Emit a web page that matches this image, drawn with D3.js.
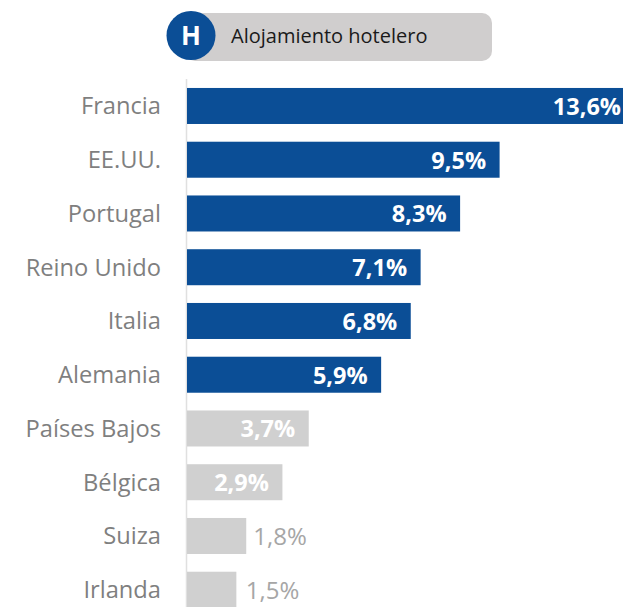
<!DOCTYPE html>
<html>
<head>
<meta charset="utf-8">
<script src="https://cdn.jsdelivr.net/npm/d3@7"></script>
<style>
html, body { margin: 0; padding: 0; background: #fff; overflow: hidden; }
svg { display: block; }
text { font-family: "Open Sans", sans-serif; }
</style>
</head>
<body>
<div id="chart"></div>
<script>
var w = 623, h = 607;

var countries = ["Francia", "EE.UU.", "Portugal", "Reino Unido", "Italia", "Alemania", "Países Bajos", "Bélgica", "Suiza", "Irlanda"];
var shares = [13.6, 9.5, 8.3, 7.1, 6.8, 5.9, 3.7, 2.9, 1.8, 1.5];
var labels = ["13,6%", "9,5%", "8,3%", "7,1%", "6,8%", "5,9%", "3,7%", "2,9%", "1,8%", "1,5%"];

var svg = d3.select("#chart").append("svg")
	.attr("width", w)
	.attr("height", h);

// header pill
svg.append("rect")
	.attr("x", 185).attr("y", 13)
	.attr("width", 307).attr("height", 48)
	.attr("rx", 10)
	.style("fill", "#d0cece");
svg.append("circle")
	.attr("cx", 191).attr("cy", 35.5).attr("r", 24.5)
	.style("fill", "#0b4e96");
svg.append("text")
	.attr("x", 191).attr("y", 45)
	.attr("text-anchor", "middle")
	.style("font-size", "26px").style("font-weight", 700)
	.style("fill", "#fff")
	.text("H");
svg.append("text")
	.attr("x", 231).attr("y", 43)
	.style("font-size", "20px")
	.style("fill", "#1a1a1a")
	.text("Alojamiento hotelero");

// the first bar runs past the right edge of the picture
var x = d3.scaleLinear().domain([0, 13.6]).range([187, 634.5]);
var y = d3.scaleBand().domain(countries).range([79.1, 616.6]).paddingInner(0.33).paddingOuter(0.165);

// axis line
svg.append("line")
	.attr("x1", 186.5).attr("x2", 186.5)
	.attr("y1", 79).attr("y2", 607)
	.style("stroke", "#e0e0e0")
	.style("stroke-width", 1.5);

var bars = svg.selectAll("rect.bar")
	.data(countries)
	.enter()
	.append("rect")
	.classed("bar", true)
	.attr("x", x(0))
	.attr("y", function(d){ return y(d); })
	.attr("width", function(d, i){ return x(shares[i]) - x(0); })
	.attr("height", y.bandwidth())
	.style("fill", function(d, i){ return i < 6 ? "#0b4e96" : "#d0d0d0"; });

svg.selectAll("text.cat")
	.data(countries)
	.enter()
	.append("text")
	.classed("cat", true)
	.attr("x", 161)
	.attr("y", function(d){ return y(d) + y.bandwidth() / 2 + 8.5; })
	.attr("text-anchor", "end")
	.style("font-size", "23.7px")
	.style("fill", "#7f7f7f")
	.text(function(d){ return d; });

svg.selectAll("text.val")
	.data(labels)
	.enter()
	.append("text")
	.classed("val", true)
	.attr("x", function(d, i){
		if (i < 8) return x(shares[i]) - 13.5;
		return x(shares[i]) + (i == 9 ? 9.5 : 7);
	})
	.attr("y", function(d, i){ return y(countries[i]) + y.bandwidth() / 2 + 9; })
	.attr("text-anchor", function(d, i){ return i < 8 ? "end" : "start"; })
	.style("font-size", function(d, i){ return i < 8 ? "23.5px" : "24px"; })
	.style("font-weight", function(d, i){ return i < 8 ? 700 : 400; })
	.style("fill", function(d, i){ return i < 8 ? "#fff" : "#a6a6a6"; })
	.text(function(d){ return d; });
</script>
</body>
</html>
